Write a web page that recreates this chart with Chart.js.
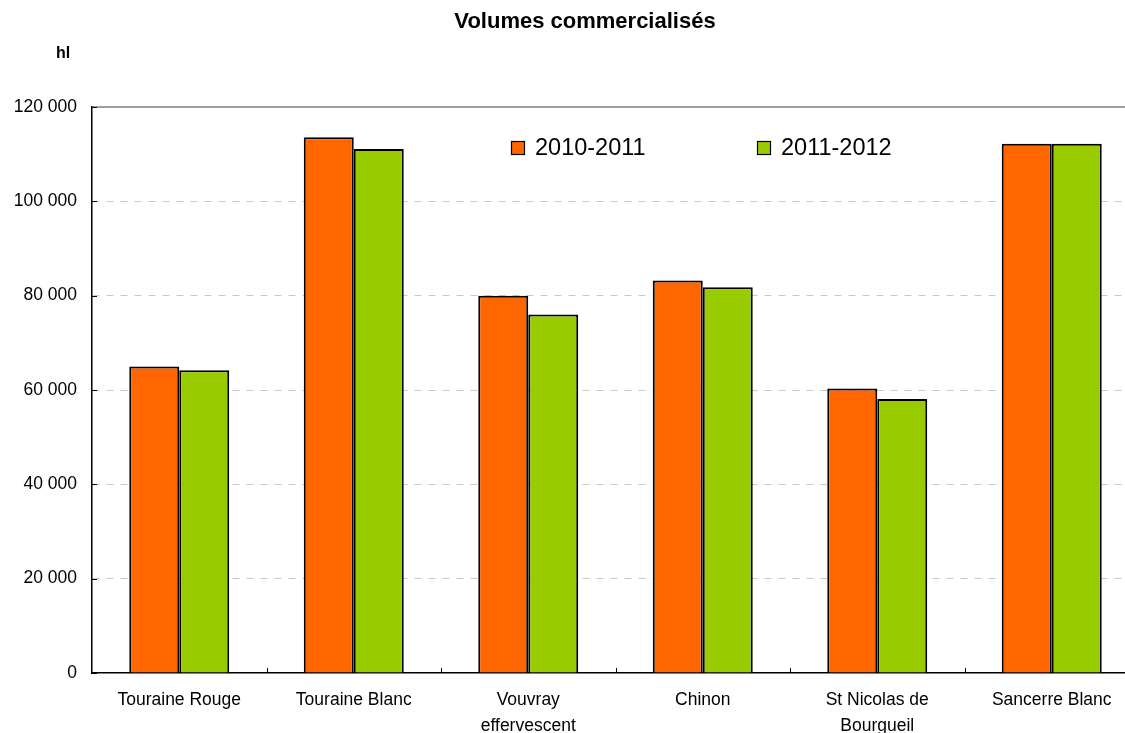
<!DOCTYPE html>
<html>
<head>
<meta charset="utf-8">
<script src="https://cdn.jsdelivr.net/npm/chart.js@4/dist/chart.umd.min.js"></script>
<style>
  html, body { margin: 0; padding: 0; background: #ffffff; overflow: hidden; width: 1125px; height: 733px; }
  #wrap { width: 1125px; height: 733px; overflow: hidden; position: relative; }
  canvas { display: block; }
</style>
</head>
<body>
<div id="wrap"><canvas id="c" width="1139" height="733"></canvas></div>
<script>
const categories = ['Touraine Rouge', 'Touraine Blanc', ['Vouvray', 'effervescent'], 'Chinon', ['St Nicolas de', 'Bourgueil'], 'Sancerre Blanc'];
const seriesNames = ['2010-2011', '2011-2012'];
const values2010 = [65000, 113600, 80000, 83200, 60300, 112200];
const values2011 = [64200, 111100, 76000, 81800, 58100, 112200];
const yTickValues = [0, 20000, 40000, 60000, 80000, 100000, 120000];
const yTickLabels = ['0', '20 000', '40 000', '60 000', '80 000', '100 000', '120 000'];
const chartTitle = 'Volumes commercialisés';
const unitLabel = 'hl';

const FONT = '"Liberation Sans", Arial, Helvetica, sans-serif';
const colors = ['#FF6600', '#99CC00'];

const extras = {
  id: 'extras',
  afterDraw(chart) {
    const ctx = chart.ctx;
    const a = chart.chartArea;
    const ys = chart.scales.y, xs = chart.scales.x;
    ctx.save();
    // top border line
    ctx.strokeStyle = '#808080';
    ctx.lineWidth = 1.5;
    ctx.beginPath();
    ctx.moveTo(a.left, ys.getPixelForValue(120000));
    ctx.lineTo(a.right, ys.getPixelForValue(120000));
    ctx.stroke();
    // inner tick marks
    ctx.strokeStyle = '#000000';
    ctx.lineWidth = 1;
    yTickValues.forEach(v => {
      const y = Math.round(ys.getPixelForValue(v)) + 0.5;
      ctx.beginPath(); ctx.moveTo(a.left, y); ctx.lineTo(a.left + 5, y); ctx.stroke();
    });
    for (let i = 0; i < categories.length - 1; i++) {
      const x = Math.round((xs.getPixelForValue(i) + xs.getPixelForValue(i + 1)) / 2) + 0.5;
      ctx.beginPath(); ctx.moveTo(x, a.bottom); ctx.lineTo(x, a.bottom - 5); ctx.stroke();
    }
    // title
    ctx.fillStyle = '#000000';
    ctx.textBaseline = 'middle';
    ctx.textAlign = 'center';
    ctx.font = 'bold 22px ' + FONT;
    ctx.fillText(chartTitle, 585, 22);
    // unit label
    ctx.textAlign = 'left';
    ctx.font = 'bold 16px ' + FONT;
    ctx.fillText(unitLabel, 56, 54);
    // legend
    const legendX = [511, 757];
    ctx.font = '23.5px ' + FONT;
    chart.data.datasets.forEach((ds, i) => {
      ctx.fillStyle = ds.backgroundColor;
      ctx.fillRect(legendX[i], 141, 14, 14);
      ctx.strokeStyle = '#000000';
      ctx.lineWidth = 1.2;
      ctx.strokeRect(legendX[i] + 0.5, 141.5, 13, 13);
      ctx.fillStyle = '#000000';
      ctx.fillText(ds.label, legendX[i] + 24, 149);
    });
    ctx.restore();
  }
};

new Chart(document.getElementById('c'), {
  type: 'bar',
  data: {
    labels: categories,
    datasets: [
      { label: seriesNames[0], data: values2010, backgroundColor: colors[0], borderColor: '#000000', borderWidth: 2 },
      { label: seriesNames[1], data: values2011, backgroundColor: colors[1], borderColor: '#000000', borderWidth: 2 }
    ]
  },
  options: {
    responsive: false,
    animation: false,
    devicePixelRatio: 1,
    layout: { padding: { top: 107, left: 0, right: 0, bottom: 0 } },
    datasets: { bar: { categoryPercentage: 0.573, barPercentage: 1.0 } },
    plugins: {
      legend: { display: false },
      title: { display: false },
      tooltip: { enabled: false }
    },
    scales: {
      x: {
        grid: { display: false, drawTicks: false },
        border: { display: true, color: '#000000', width: 1.5 },
        ticks: { color: '#000000', font: { family: FONT, size: 17.5, lineHeight: 1.5 }, padding: 14, maxRotation: 0, autoSkip: false },
        afterFit(scale) { scale.height = 733 - 673; }
      },
      y: {
        min: 0, max: 120000,
        afterBuildTicks(scale) { scale.ticks = yTickValues.map(v => ({ value: v })); },
        grid: {
          drawTicks: false,
          color: ctx => (ctx.tick && (ctx.tick.value === 0 || ctx.tick.value === 120000)) ? 'rgba(0,0,0,0)' : '#c8c8c8',
          lineWidth: 1
        },
        border: { display: true, color: '#000000', width: 1.5, dash: [7, 7] },
        ticks: {
          color: '#000000',
          font: { family: FONT, size: 17.5 },
          padding: 15,
          callback: (v) => { const i = yTickValues.indexOf(v); return i >= 0 ? yTickLabels[i] : ''; }
        },
        afterFit(scale) { scale.width = 92; }
      }
    }
  },
  plugins: [extras]
});
</script>
</body>
</html>
